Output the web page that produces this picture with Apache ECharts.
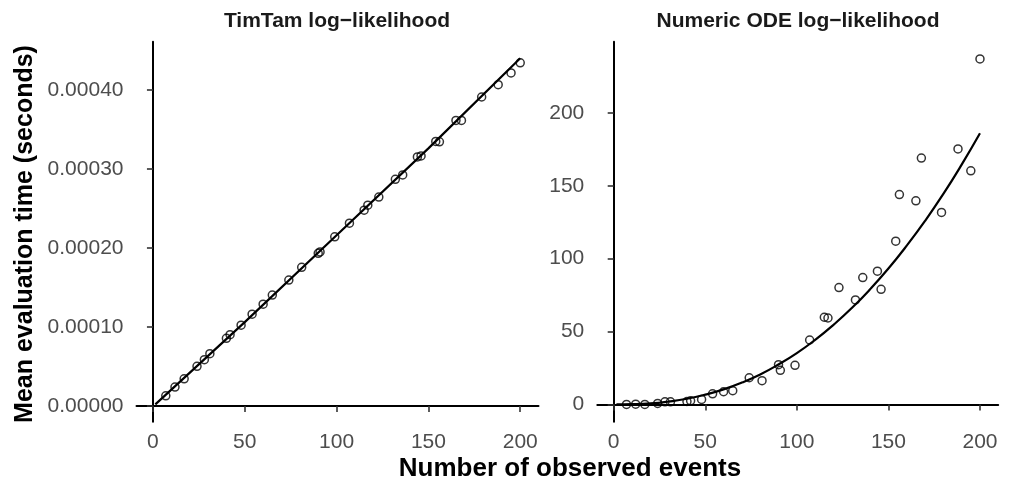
<!DOCTYPE html>
<html>
<head>
<meta charset="utf-8">
<script src="https://cdn.jsdelivr.net/npm/echarts@6/dist/echarts.min.js"></script>
<style>
  html, body { margin: 0; padding: 0; background: #fff; }
  #chart { width: 1013px; height: 484px; }
</style>
</head>
<body>
<div id="chart"></div>
<script>
// observed events (same x in both panels)
const events = [7, 12, 17, 24, 28, 31, 40, 42, 48, 54, 60, 65, 74, 81, 90, 91, 99, 107, 115, 117,
  123, 132, 136, 144, 146, 154, 156, 165, 168, 179, 188, 195, 200]

// TimTam mean evaluation time (seconds)
const timtamTime = [1.27e-5, 2.38e-5, 3.43e-5, 5.01e-5, 5.85e-5, 6.61e-5, 8.56e-5, 9.02e-5, 1.022e-4, 1.161e-4,
  1.288e-4, 1.403e-4, 1.593e-4, 1.754e-4, 1.931e-4, 1.949e-4, 2.140e-4, 2.313e-4, 2.478e-4, 2.541e-4,
  2.643e-4, 2.868e-4, 2.923e-4, 3.151e-4, 3.164e-4, 3.347e-4, 3.342e-4, 3.614e-4, 3.614e-4, 3.910e-4,
  4.066e-4, 4.215e-4, 4.342e-4]

// Numeric ODE mean evaluation time (seconds)
const odeTime = [0, 0.2, 0, 0.7, 1.8, 1.8, 2, 2.5, 3.4, 7.3,
  8.7, 9.4, 18.3, 16.3, 27.3, 23.4, 26.8, 44.2, 59.8, 59.3,
  80.2, 71.7, 87, 91.4, 79, 112, 144, 139.7, 169, 131.7,
  175.3, 160.3, 237]

// fitted curves
const timtamFitX = [1.3, 50, 100, 150, 200]
const timtamFitY = [0.2e-5, 1.06e-4, 2.16e-4, 3.26e-4, 4.40e-4]

const odeFitX = [1.5, 10, 20, 30, 40, 50, 60, 70, 80, 90, 100, 110, 120, 130, 140, 150, 160, 170, 180, 190, 200]
const odeFitY = [0, 0.14, 0.7, 2, 3.9, 6.7, 10.3, 15, 20.6, 27.4, 35.2, 44.3, 54.6, 66.1, 79, 93.2, 108.9, 125.9, 144.4, 164.5, 186]

const xTicks = [0, 50, 100, 150, 200]
const timtamTicks = [0, 0.0001, 0.0002, 0.0003, 0.0004]
const odeTicks = [0, 50, 100, 150, 200]

const font = 'Liberation Sans, Arial, Helvetica, sans-serif'

const zip = (xs, ys) => xs.map((x, i) => [x, ys[i]])

const chart = echarts.init(document.getElementById('chart'))

const xAxisBase = {
  type: 'value',
  min: -8.95,
  max: 209.95,
  axisLine: { show: true, lineStyle: { color: '#000', width: 2 } },
  axisTick: { show: true, length: 6, lineStyle: { color: '#333', width: 1.6 }, customValues: xTicks },
  axisLabel: { color: '#4d4d4d', fontSize: 21, fontFamily: font, margin: 10, customValues: xTicks },
  splitLine: { show: false }
}

const yAxisBase = {
  type: 'value',
  axisLine: { show: true, lineStyle: { color: '#000', width: 2 } },
  splitLine: { show: false }
}

const pointStyle = { color: 'rgba(0,0,0,0)', borderColor: '#000', borderWidth: 1.5 }

const option = {
  animation: false,
  backgroundColor: '#fff',
  grid: [
    { left: 136.5, right: 474.5, top: 41.7, bottom: 62.3 },
    { left: 597.3, right: 14.8, top: 41.7, bottom: 62.3 }
  ],
  xAxis: [
    Object.assign({ gridIndex: 0 }, xAxisBase),
    Object.assign({ gridIndex: 1 }, xAxisBase)
  ],
  yAxis: [
    Object.assign({
      gridIndex: 0,
      min: -0.0000200,
      max: 0.000461,
      axisTick: { show: true, length: 6, lineStyle: { color: '#333', width: 1.6 }, customValues: timtamTicks },
      axisLabel: {
        color: '#4d4d4d', fontSize: 21, fontFamily: font, margin: 13,
        customValues: timtamTicks,
        formatter: v => v.toFixed(5)
      }
    }, yAxisBase),
    Object.assign({
      gridIndex: 1,
      min: -11.85,
      max: 248.85,
      axisTick: { show: true, length: 6, lineStyle: { color: '#333', width: 1.6 }, customValues: odeTicks },
      axisLabel: {
        color: '#4d4d4d', fontSize: 21, fontFamily: font, margin: 13,
        customValues: odeTicks
      }
    }, yAxisBase)
  ],
  graphic: [
    {
      type: 'text', x: 337, y: 21,
      style: { text: 'TimTam log\u2212likelihood', font: 'bold 21px ' + font, fill: '#1a1a1a', align: 'center', verticalAlign: 'middle' }
    },
    {
      type: 'text', x: 798, y: 21,
      style: { text: 'Numeric ODE log\u2212likelihood', font: 'bold 21px ' + font, fill: '#1a1a1a', align: 'center', verticalAlign: 'middle' }
    },
    {
      type: 'text', x: 570, y: 469,
      style: { text: 'Number of observed events', font: 'bold 26px ' + font, fill: '#000', align: 'center', verticalAlign: 'middle' }
    },
    {
      type: 'text', x: 25, y: 234, rotation: Math.PI / 2,
      style: { text: 'Mean evaluation time (seconds)', font: 'bold 25px ' + font, fill: '#000', align: 'center', verticalAlign: 'middle' }
    }
  ],
  series: [
    {
      type: 'scatter', xAxisIndex: 0, yAxisIndex: 0,
      data: zip(events, timtamTime),
      symbol: 'circle', symbolSize: 8,
      itemStyle: pointStyle
    },
    {
      type: 'line', xAxisIndex: 0, yAxisIndex: 0,
      data: zip(timtamFitX, timtamFitY),
      showSymbol: false, smooth: false,
      lineStyle: { color: '#000', width: 2.2 }
    },
    {
      type: 'scatter', xAxisIndex: 1, yAxisIndex: 1,
      data: zip(events, odeTime),
      symbol: 'circle', symbolSize: 8,
      itemStyle: pointStyle
    },
    {
      type: 'line', xAxisIndex: 1, yAxisIndex: 1,
      data: zip(odeFitX, odeFitY),
      showSymbol: false, smooth: true,
      lineStyle: { color: '#000', width: 2.2 }
    }
  ]
}

chart.setOption(option)

window.addEventListener('resize', () => {
  chart.resize()
})
</script>
</body>
</html>
